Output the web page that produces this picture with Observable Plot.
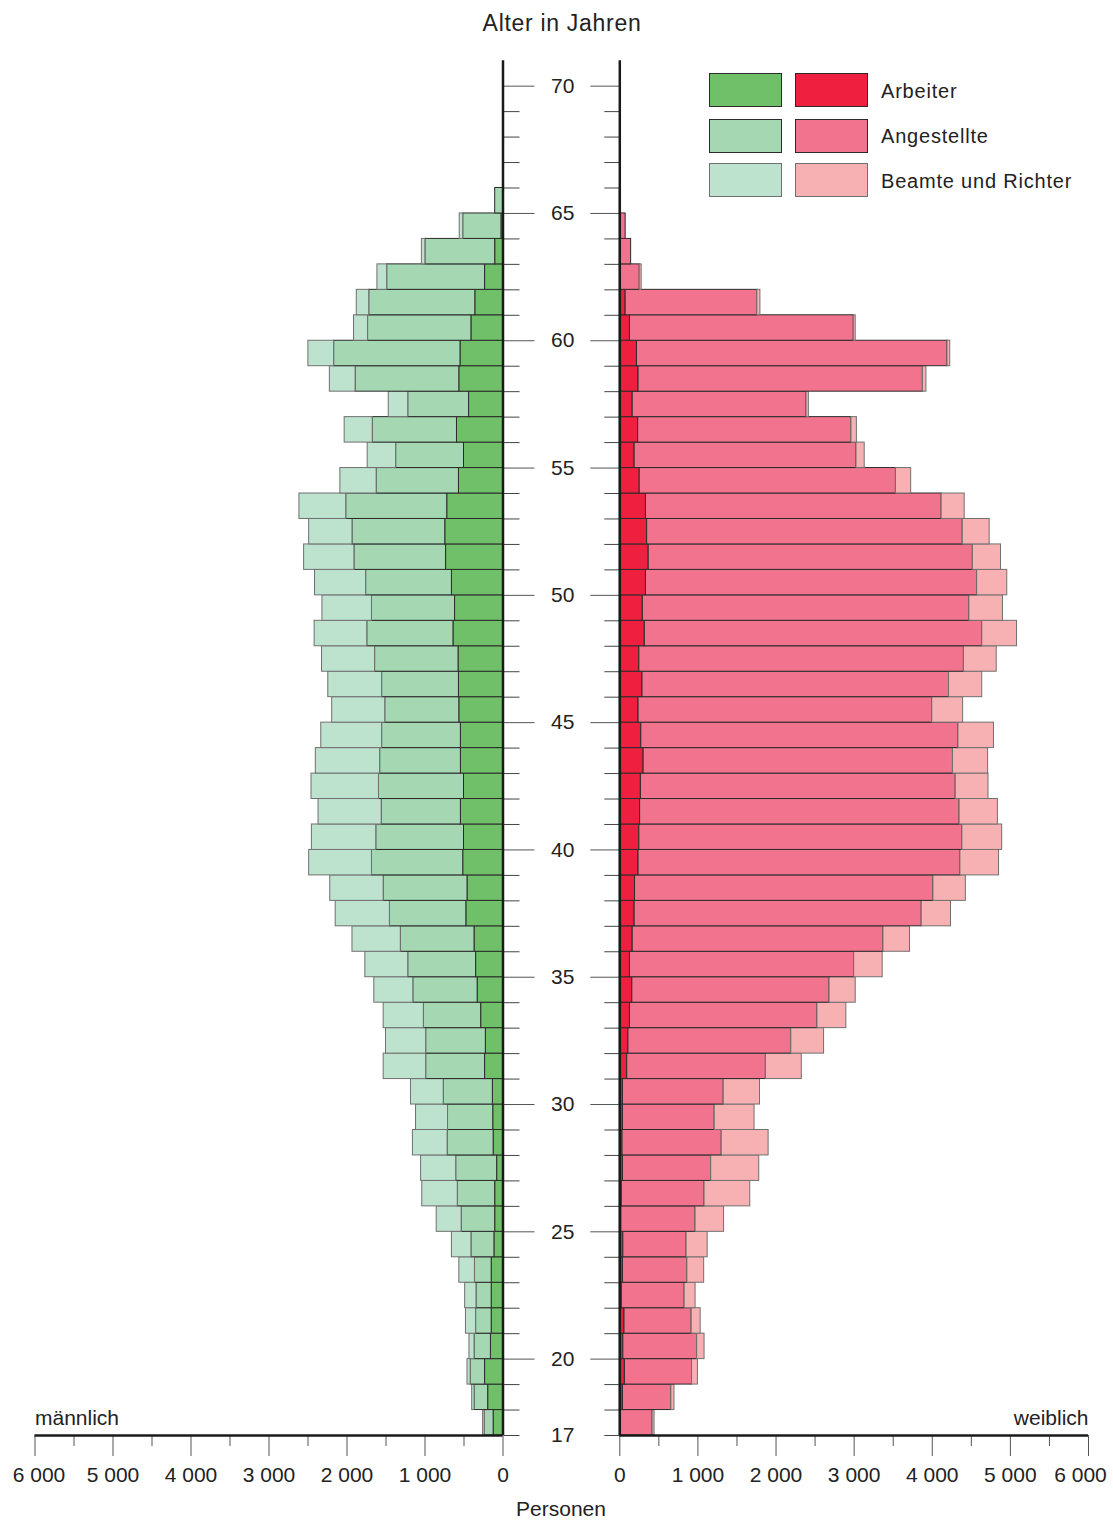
<!DOCTYPE html>
<html>
<head>
<meta charset="utf-8">
<script src="https://cdn.jsdelivr.net/npm/d3@7"></script>
<script src="https://cdn.jsdelivr.net/npm/@observablehq/plot@0.6"></script>
<style>
  body { margin: 0; background: #fff; font-family: "Liberation Sans", Arial, sans-serif; color: #222; }
  #wrap { position: relative; width: 1113px; height: 1520px; overflow: hidden; }
  .abs { position: absolute; white-space: nowrap; }
  .box { position: absolute; box-sizing: border-box; border: 1px solid #333; }
  .lab { position: absolute; white-space: nowrap; font-size: 20px; line-height: 20px; letter-spacing: 0.8px; }
</style>
</head>
<body>
<div id="wrap"></div>
<script>
// ---------- data ----------
const ages = [17,18,19,20,21,22,23,24,25,26,27,28,29,30,31,32,33,34,35,36,37,38,39,40,41,42,43,44,45,46,47,48,49,50,51,52,53,54,55,56,57,58,59,60,61,62,63,64,65];
const groups = ["Arbeiter", "Angestellte", "Beamte und Richter"];

// männlich
const maleArbeiter    = [120,190,230,155,145,145,145,110,100,100,75,120,125,130,230,220,280,325,345,365,470,455,510,500,540,500,540,540,560,565,570,635,615,655,730,740,715,565,500,590,435,560,545,405,355,230,100,20,0];
const maleAngestellte = [115,175,185,210,200,195,215,295,430,480,525,590,580,630,755,765,735,825,870,945,980,1075,1170,1125,1015,1090,1035,1010,950,985,1070,1105,1065,1100,1175,1190,1295,1055,870,1080,780,1330,1620,1325,1360,1255,895,490,100];
const maleBeamte      = [20,30,40,65,130,145,200,250,320,455,450,445,410,420,545,515,515,500,550,620,695,685,805,825,810,865,825,780,680,690,680,675,635,655,645,555,600,465,365,360,250,330,330,180,160,125,45,45,0];

// weiblich
const femaleArbeiter    = [15,40,65,45,60,25,40,45,20,25,40,35,40,40,95,110,130,160,130,165,190,195,240,250,260,270,305,275,240,290,250,320,295,335,370,350,335,255,190,235,165,240,220,130,75,0,0,0,0];
const femaleAngestellte = [405,620,860,945,860,805,825,810,950,1060,1130,1270,1175,1290,1775,2085,2400,2525,2870,3210,3675,3820,4120,4135,4090,4030,3960,4060,3760,3925,4155,4320,4180,4240,4150,4040,3785,3280,2840,2730,2225,3640,3975,2865,1685,255,145,75,10];
const femaleBeamte      = [25,40,75,95,115,140,215,270,365,585,615,600,510,465,460,420,370,335,365,340,375,415,495,510,490,420,450,455,395,425,420,445,430,385,360,345,295,195,105,70,30,45,35,25,40,25,0,0,0];

const maleColors   = ["#70c06a", "#a5d7b2", "#bde2cd"];
const femaleColors = ["#ee1f3f", "#f1738d", "#f7b1b3"];
const strokeColors = ["#2b2b2b", "#2b2b2b", "#707070"];

const ageLabels = [17,20,25,30,35,40,45,50,55,60,65,70];
const ageMajor  = [20,25,30,35,40,45,50,55,60,65,70];
const ageMinor  = d3.range(17, 71).filter(a => a % 5 !== 0);
const xMajor    = [0,1000,2000,3000,4000,5000,6000];
const xLabels   = [0,1000,2000,3000,4000,5000];
const xMinor    = [500,1500,2500,3500,4500,5500];

// ---------- build rows ----------
function rows(series, fills) {
  const out = [];
  ages.forEach((age, i) => {
    series.forEach((s, k) => {
      out.push({age, group: groups[k], value: s[i], fill: fills[k], stroke: strokeColors[k]});
    });
  });
  return out;
}
const maleRows = rows([maleArbeiter, maleAngestellte, maleBeamte], maleColors);
const femaleRows = rows([femaleArbeiter, femaleAngestellte, femaleBeamte], femaleColors);

const fmt = d => d3.format(",")(d).replace(/,/g, " ");

// ---------- layout ----------
const TOP = 40;
const H = 1455;
const MT = 60.2 - TOP;
const MB = H - (1435 - TOP);
const baseStyle = {
  position: "absolute", top: TOP + "px", overflow: "visible", background: "transparent",
  fontSize: "21px", fontFamily: "'Liberation Sans', Arial, sans-serif", color: "#222"
};

const left = Plot.plot({
  width: 560, height: H,
  marginLeft: 34.5, marginRight: 57.5, marginTop: MT, marginBottom: MB,
  style: {...baseStyle, left: "0px"},
  x: {domain: [0, 6000], reverse: true},
  y: {domain: [17, 71]},
  color: {type: "identity"},
  marks: [
    Plot.rectX(maleRows, {x: "value", y1: "age", y2: d => d.age + 1, fill: "fill", stroke: "stroke", strokeWidth: 1}),
    Plot.axisY(ageMinor, {anchor: "right", tickSize: 16, tickFormat: () => "", label: null, stroke: "#444"}),
    Plot.axisY(ageMajor, {anchor: "right", tickSize: 31, tickFormat: () => "", label: null, stroke: "#555"}),
    Plot.axisY(ageLabels, {anchor: "right", tickSize: 0, tickPadding: 48, tickFormat: d => String(d), label: null, fill: "#222"}),
    Plot.axisX(xMinor, {tickSize: 11, tickFormat: () => "", label: null, stroke: "#555"}),
    Plot.axisX(xMajor, {tickSize: 21, tickFormat: () => "", label: null, stroke: "#555"}),
    Plot.axisX(xLabels, {tickSize: 0, tickPadding: 32, tickFormat: fmt, label: null, fill: "#222"}),
    Plot.axisX([6000], {tickSize: 0, tickPadding: 32, tickFormat: fmt, label: null, fill: "#222", dx: 4}),
    Plot.ruleX([0], {stroke: "#1a1a1a", strokeWidth: 2.5}),
    Plot.ruleY([17], {stroke: "#1a1a1a", strokeWidth: 2.5}),
    Plot.text(["männlich"], {frameAnchor: "bottom-left", textAnchor: "start", lineAnchor: "bottom", dy: -10.7, fontSize: 21, fill: "#222"})
  ]
});

const right = Plot.plot({
  width: 560, height: H,
  marginLeft: 66.3, marginRight: 25, marginTop: MT, marginBottom: MB,
  style: {...baseStyle, left: "553px"},
  x: {domain: [0, 6000]},
  y: {domain: [17, 71]},
  color: {type: "identity"},
  marks: [
    Plot.rectX(femaleRows, {x: "value", y1: "age", y2: d => d.age + 1, fill: "fill", stroke: "stroke", strokeWidth: 1}),
    Plot.axisY(ageMinor, {anchor: "left", tickSize: 15, tickFormat: () => "", label: null, stroke: "#444"}),
    Plot.axisY(ageMajor, {anchor: "left", tickSize: 29, tickFormat: () => "", label: null, stroke: "#555"}),
    Plot.axisX(xMinor, {tickSize: 11, tickFormat: () => "", label: null, stroke: "#555"}),
    Plot.axisX(xMajor, {tickSize: 21, tickFormat: () => "", label: null, stroke: "#555"}),
    Plot.axisX(xLabels, {tickSize: 0, tickPadding: 32, tickFormat: fmt, label: null, fill: "#222"}),
    Plot.axisX([6000], {tickSize: 0, tickPadding: 32, tickFormat: fmt, label: null, fill: "#222", dx: -8}),
    Plot.ruleX([0], {stroke: "#1a1a1a", strokeWidth: 2.5}),
    Plot.ruleY([17], {stroke: "#1a1a1a", strokeWidth: 2.5}),
    Plot.text(["weiblich"], {frameAnchor: "bottom-right", textAnchor: "end", lineAnchor: "bottom", dy: -10.7, fontSize: 21, fill: "#222"})
  ]
});

const wrap = document.getElementById("wrap");
wrap.appendChild(left);
wrap.appendChild(right);

function addText(txt, css) {
  const d = document.createElement("div");
  d.className = "abs";
  d.textContent = txt;
  Object.assign(d.style, css);
  wrap.appendChild(d);
}
addText("Alter in Jahren", {left: "412px", width: "300px", textAlign: "center", top: "12px", fontSize: "23px", lineHeight: "23px", letterSpacing: "0.7px"});
addText("Personen", {left: "411px", width: "300px", textAlign: "center", top: "1498px", fontSize: "21px", lineHeight: "21px"});

// legend
const legendRows = [
  {top: 73.3, h: 33.7, labelTop: 81.4},
  {top: 119.3, h: 33.4, labelTop: 126.4},
  {top: 163.3, h: 34, labelTop: 171.4}
];
groups.forEach((g, k) => {
  const r = legendRows[k];
  [[708.5, maleColors[k]], [795.1, femaleColors[k]]].forEach(([x, c]) => {
    const b = document.createElement("div");
    b.className = "box";
    Object.assign(b.style, {left: x + "px", top: r.top + "px", width: "73px", height: r.h + "px", background: c, borderColor: strokeColors[k]});
    wrap.appendChild(b);
  });
  const l = document.createElement("div");
  l.className = "lab";
  l.textContent = g;
  Object.assign(l.style, {left: "881px", top: r.labelTop + "px"});
  wrap.appendChild(l);
});
</script>
</body>
</html>
